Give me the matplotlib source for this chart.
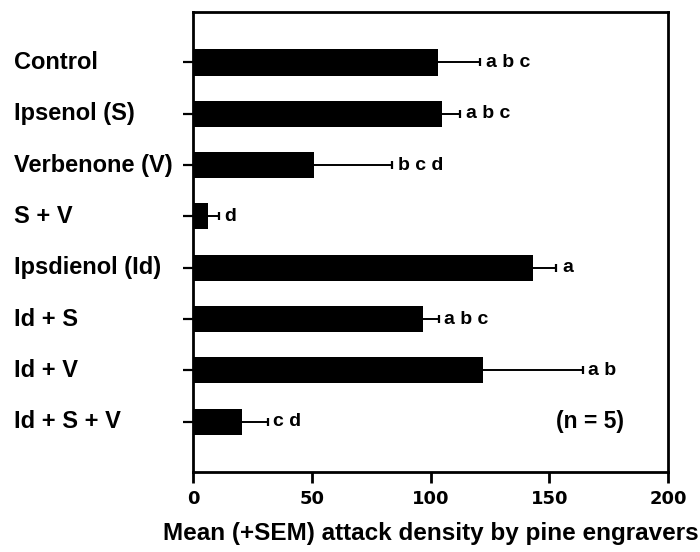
import numpy as np
import matplotlib.pyplot as plt

# Treatments, mean attack density and SEM per treatment
treatments = ['Control', 'Ipsenol (S)', 'Verbenone (V)', 'S + V',
              'Ipsdienol (Id)', 'Id + S', 'Id + V', 'Id + S + V']
means = [103, 105, 51, 6.5, 143, 97, 122, 20.5]
sems = [18, 7.5, 33, 4.5, 10, 6.5, 42, 11]
groups = ['a b c', 'a b c', 'b c d', 'd', 'a', 'a b c', 'a b', 'c d']
xticks = [0, 50, 100, 150, 200]

fig = plt.figure(figsize=(7, 5.52), dpi=100)
ax = fig.add_axes([0.2757, 0.145, 0.6786, 0.833])

y = np.arange(len(treatments))
ax.barh(y, means, height=0.51, color='black')
eb = ax.errorbar(means, y, xerr=[np.zeros(len(sems)), sems], fmt='none',
                 ecolor='black', elinewidth=1.4, capsize=3, capthick=1.6)
# only the upper (+SEM) cap is wanted
eb[1][0].set_visible(False)

# mean separation letters just past each error bar
for yi, m, s, g in zip(y, means, sems, groups):
    ax.annotate(g, (m + s, yi), xytext=(4, 0), textcoords='offset points',
                ha='left', va='center', fontsize=14, fontweight='bold',
                family='Liberation Sans')

ax.set_xlim(0, 200)
ax.set_ylim(7.98, -0.98)
ax.set_xticks(xticks)
ax.set_xticklabels([str(t) for t in xticks], fontsize=13,
                   fontweight='bold', family='DejaVu Sans')
ax.set_yticks(y)
ax.set_yticklabels([])

# category labels, left aligned
for yi, name in zip(y, treatments):
    ax.text(-0.377, yi, name, transform=ax.get_yaxis_transform(),
            ha='left', va='center', fontsize=17, fontweight='bold',
            family='Liberation Sans')

for sp in ax.spines.values():
    sp.set_linewidth(2)
ax.tick_params(axis='x', direction='out', length=8, width=2, pad=5)
ax.tick_params(axis='y', direction='out', length=7, width=1.6)

ax.set_xlabel('Mean (+SEM) attack density by pine engravers',
              fontsize=17.5, fontweight='bold', family='Liberation Sans',
              labelpad=10)
ax.text(0.765, 7, '(n = 5)', transform=ax.get_yaxis_transform(),
        ha='left', va='center', fontsize=16.5, fontweight='bold',
        family='Liberation Sans')

fig.savefig('out.png', dpi=100)
